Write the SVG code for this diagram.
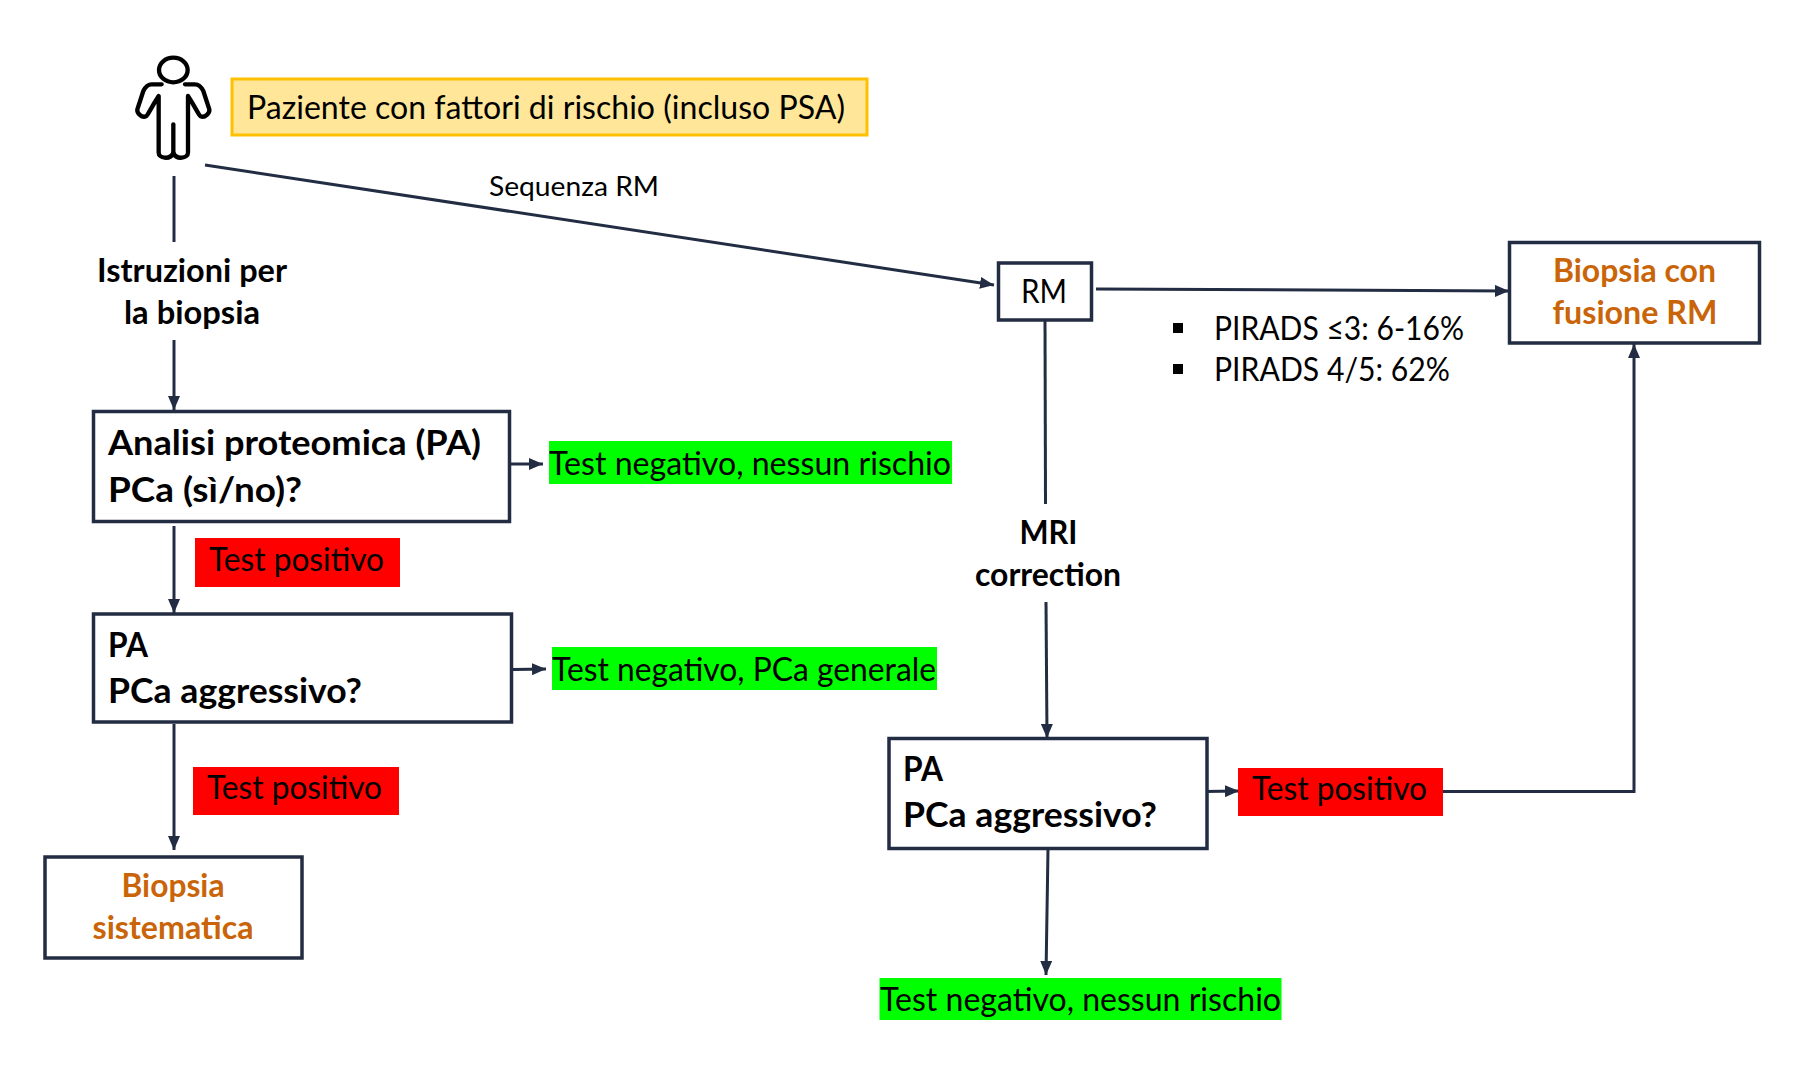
<svg xmlns="http://www.w3.org/2000/svg" width="1802" height="1092" viewBox="0 0 1802 1092">
<defs>
<style>
text{font-family:"Lato","Liberation Sans",sans-serif;fill:#000;font-size:32px}
.s{font-size:27px}
.b{font-weight:700}
.h{font-weight:700;font-size:34px}
.o{font-weight:700;fill:#C96508}
.box{fill:#fff;stroke:#222C42;stroke-width:3.500}
.con{fill:none;stroke:#222C42;stroke-width:3}
.red{fill:#FF0000}
.green{fill:#00FF00}
</style>
<marker id="a" markerUnits="userSpaceOnUse" markerWidth="15" markerHeight="12" refX="14" refY="6" orient="auto"><path d="M0 0L14 6L0 12z" fill="#222C42"/></marker>
</defs>
<rect width="1802" height="1092" fill="#fff"/>
<g id="connectors">
<path class="con" d="M174 176V242"/>
<path class="con" d="M174 340V410" marker-end="url(#a)"/>
<path class="con" d="M205 165L994 285" marker-end="url(#a)"/>
<path class="con" d="M1096 289L1509 291" marker-end="url(#a)"/>
<path class="con" d="M1045 320L1045.500 504"/>
<path class="con" d="M1046 602L1047 738" marker-end="url(#a)"/>
<path class="con" d="M510 464H543" marker-end="url(#a)"/>
<path class="con" d="M174 526V613" marker-end="url(#a)"/>
<path class="con" d="M513 669.500L546 669" marker-end="url(#a)"/>
<path class="con" d="M174 724V850" marker-end="url(#a)"/>
<path class="con" d="M1204 791.500L1239 791" marker-end="url(#a)"/>
<path class="con" d="M1442 791.500H1634V344" marker-end="url(#a)"/>
<path class="con" d="M1048 849L1046 975" marker-end="url(#a)"/>
</g>
<g id="patient" fill="none" stroke="#000" stroke-width="13" stroke-linejoin="round" stroke-linecap="round" transform="translate(120 41) scale(.3333)">
<ellipse cx="160" cy="87" rx="43" ry="37"/>
<path d="M125 130H95C80 130 74 142 70 150L52 205C50 215 65 232 78 226C84 223 90 205 116 165V335C116 352 150 358 160 336C170 358 204 352 204 335V165C230 205 236 223 242 226C255 232 270 215 268 205L250 150C246 142 240 130 225 130H195"/>
<path d="M160 250V336"/>
</g>
<g id="n-paziente">
<rect x="232" y="79" width="635" height="56" fill="#FFE699" stroke="#FFC000" stroke-width="3"/>
<text x="247" y="119" textLength="598" lengthAdjust="spacingAndGlyphs">Paziente con fattori di rischio (incluso PSA)</text>
</g>
<g id="l-sequenza"><text class="s" x="489" y="196" textLength="170" lengthAdjust="spacingAndGlyphs">Sequenza RM</text></g>
<g id="l-istruzioni">
<text class="b" x="97" y="282" textLength="190" lengthAdjust="spacingAndGlyphs">Istruzioni per</text>
<text class="b" x="124" y="324" textLength="136" lengthAdjust="spacingAndGlyphs">la biopsia</text>
</g>
<g id="n-analisi">
<rect class="box" x="93.500" y="411.500" width="416" height="110"/>
<text class="h" x="108" y="455" textLength="373" lengthAdjust="spacingAndGlyphs">Analisi proteomica (PA)</text>
<text class="h" x="108" y="502" textLength="194" lengthAdjust="spacingAndGlyphs">PCa (sì/no)?</text>
</g>
<g id="n-neg1">
<rect class="green" x="549" y="441" width="403" height="43"/>
<text x="549" y="475" textLength="402" lengthAdjust="spacingAndGlyphs">Test negativo, nessun rischio</text>
</g>
<g id="n-pos1">
<rect class="red" x="195" y="538" width="205" height="49"/>
<text x="209" y="571" textLength="175" lengthAdjust="spacingAndGlyphs">Test positivo</text>
</g>
<g id="n-pa1">
<rect class="box" x="93.500" y="614" width="418" height="108"/>
<text class="h" x="108" y="657" textLength="40" lengthAdjust="spacingAndGlyphs">PA</text>
<text class="h" x="108" y="703" textLength="254" lengthAdjust="spacingAndGlyphs">PCa aggressivo?</text>
</g>
<g id="n-neg2">
<rect class="green" x="552" y="647" width="385" height="43"/>
<text x="552" y="681" textLength="384" lengthAdjust="spacingAndGlyphs">Test negativo, PCa generale</text>
</g>
<g id="n-pos2">
<rect class="red" x="193" y="767" width="206" height="48"/>
<text x="207" y="799" textLength="175" lengthAdjust="spacingAndGlyphs">Test positivo</text>
</g>
<g id="n-sistematica">
<rect class="box" x="45" y="857" width="257" height="101"/>
<text class="o" x="173" y="897" text-anchor="middle" textLength="103" lengthAdjust="spacingAndGlyphs">Biopsia</text>
<text class="o" x="173" y="939" text-anchor="middle" textLength="161" lengthAdjust="spacingAndGlyphs">sistematica</text>
</g>
<g id="n-rm">
<rect class="box" x="998.500" y="263" width="93" height="57"/>
<text x="1021" y="303" textLength="46" lengthAdjust="spacingAndGlyphs">RM</text>
</g>
<g id="n-fusione">
<rect class="box" x="1509.500" y="242.500" width="250" height="100.500"/>
<text class="o" x="1553" y="282" textLength="163" lengthAdjust="spacingAndGlyphs">Biopsia con</text>
<text class="o" x="1552.500" y="324" textLength="165" lengthAdjust="spacingAndGlyphs">fusione RM</text>
</g>
<g id="l-pirads">
<rect x="1173" y="323" width="10" height="10"/>
<rect x="1173" y="364" width="10" height="10"/>
<text x="1214" y="340" textLength="250" lengthAdjust="spacingAndGlyphs">PIRADS ≤3: 6-16%</text>
<text x="1214" y="381" textLength="236" lengthAdjust="spacingAndGlyphs">PIRADS 4/5: 62%</text>
</g>
<g id="l-mri">
<text class="b" x="1019.500" y="544" textLength="58" lengthAdjust="spacingAndGlyphs">MRI</text>
<text class="b" x="975" y="586" textLength="146" lengthAdjust="spacingAndGlyphs">correction</text>
</g>
<g id="n-pa2">
<rect class="box" x="889" y="738.500" width="318" height="110"/>
<text class="h" x="903" y="781" textLength="40" lengthAdjust="spacingAndGlyphs">PA</text>
<text class="h" x="903" y="827" textLength="254" lengthAdjust="spacingAndGlyphs">PCa aggressivo?</text>
</g>
<g id="n-pos3">
<rect class="red" x="1238" y="768" width="205" height="48"/>
<text x="1252" y="800" textLength="175" lengthAdjust="spacingAndGlyphs">Test positivo</text>
</g>
<g id="n-neg3">
<rect class="green" x="879.500" y="978" width="402" height="42"/>
<text x="880" y="1011" textLength="401" lengthAdjust="spacingAndGlyphs">Test negativo, nessun rischio</text>
</g>
</svg>
